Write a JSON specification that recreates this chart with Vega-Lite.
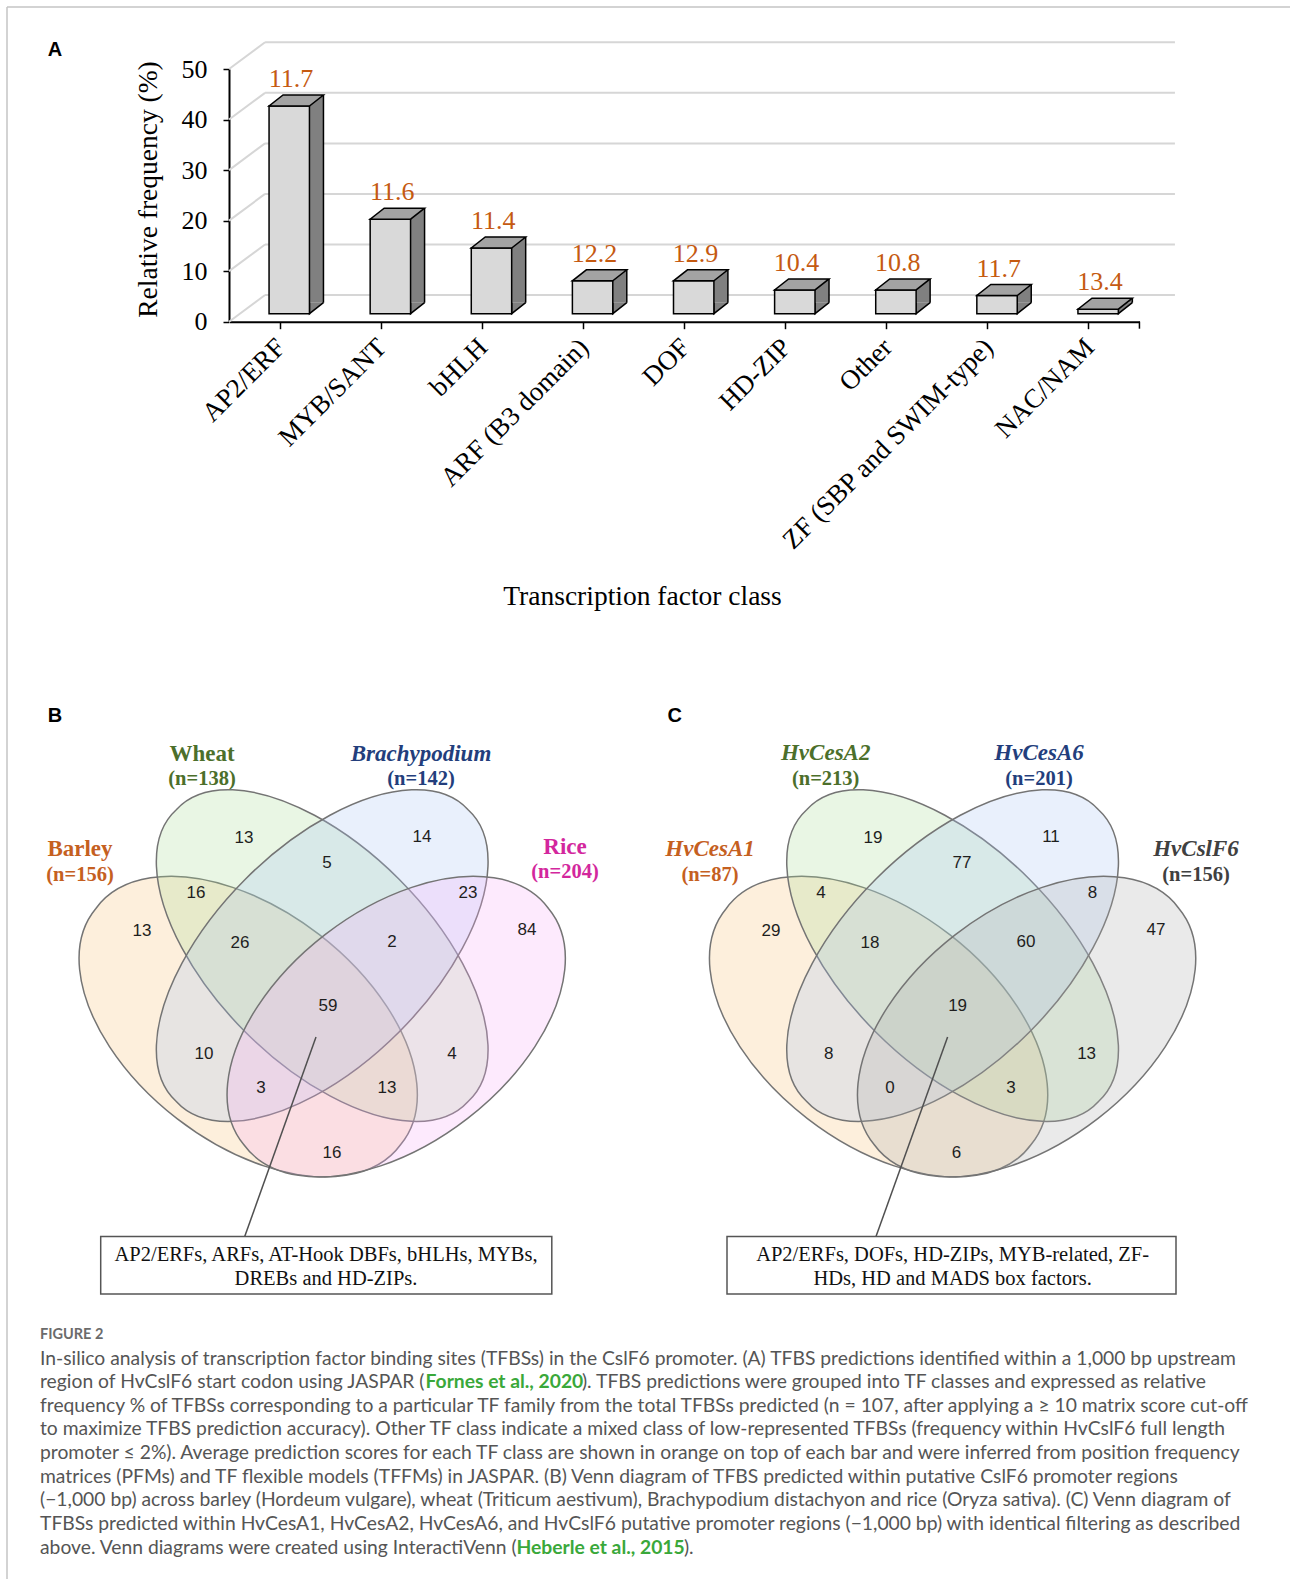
{
  "$schema": "https://vega.github.io/schema/vega-lite/v6.json",
  "width": 1290,
  "height": 1579,
  "autosize": {"type": "none"},
  "padding": 0,
  "background": "white",
  "config": {"view": {"stroke": null}},
  "resolve": {
    "scale": {"x": "independent", "y": "independent", "color": "independent", "fill": "independent", "shape": "independent"},
    "axis": {"x": "independent", "y": "independent"}
  },
  "datasets": {
    "bars": [
      {"cls": "AP2/ERF", "freq": 41.1, "score": 11.7},
      {"cls": "MYB/SANT", "freq": 18.7, "score": 11.6},
      {"cls": "bHLH", "freq": 13.0, "score": 11.4},
      {"cls": "ARF (B3 domain)", "freq": 6.5, "score": 12.2},
      {"cls": "DOF", "freq": 6.5, "score": 12.9},
      {"cls": "HD-ZIP", "freq": 4.7, "score": 10.4},
      {"cls": "Other", "freq": 4.7, "score": 10.8},
      {"cls": "ZF (SBP and SWIM-type)", "freq": 3.6, "score": 11.7},
      {"cls": "NAC/NAM", "freq": 0.9, "score": 13.4}
    ],
    "grid": [{"freq": 0}, {"freq": 10}, {"freq": 20}, {"freq": 30}, {"freq": 40}, {"freq": 50}],
    "endTick": [{"freq": 0}],
    "ellB": [
      {"set": "Barley", "x": -75, "y": 71},
      {"set": "Wheat", "x": -1, "y": 0},
      {"set": "Brachypodium", "x": -1, "y": 0},
      {"set": "Rice", "x": 73, "y": 71}
    ],
    "ellC": [
      {"set": "HvCesA1", "x": -74, "y": 71},
      {"set": "HvCesA2", "x": 0, "y": 0},
      {"set": "HvCesA6", "x": 0, "y": 0},
      {"set": "HvCslF6", "x": 74, "y": 71}
    ],
    "numB": [
      {"n": "13", "x": -79.2, "y": -117.6},
      {"n": "14", "x": 98.8, "y": -118.6},
      {"n": "5", "x": 3.8, "y": -92.6},
      {"n": "16", "x": -127.2, "y": -62.6},
      {"n": "23", "x": 144.8, "y": -62.6},
      {"n": "13", "x": -181.2, "y": -24.6},
      {"n": "84", "x": 203.8, "y": -25.6},
      {"n": "26", "x": -83.2, "y": -12.6},
      {"n": "2", "x": 68.8, "y": -13.6},
      {"n": "59", "x": 4.8, "y": 50.4},
      {"n": "10", "x": -119.2, "y": 98.4},
      {"n": "4", "x": 128.8, "y": 98.4},
      {"n": "3", "x": -62.2, "y": 132.4},
      {"n": "13", "x": 63.8, "y": 132.4},
      {"n": "16", "x": 8.8, "y": 197.4}
    ],
    "numC": [
      {"n": "19", "x": -79.6, "y": -117.6},
      {"n": "11", "x": 98.4, "y": -118.6},
      {"n": "77", "x": 9.4, "y": -92.6},
      {"n": "4", "x": -131.6, "y": -62.6},
      {"n": "8", "x": 140, "y": -62.6},
      {"n": "29", "x": -181.6, "y": -24.6},
      {"n": "47", "x": 203.4, "y": -25.6},
      {"n": "18", "x": -82.6, "y": -12.6},
      {"n": "60", "x": 73.4, "y": -13.6},
      {"n": "19", "x": 5, "y": 50.4},
      {"n": "8", "x": -123.8, "y": 98.4},
      {"n": "13", "x": 134, "y": 98.4},
      {"n": "0", "x": -62.6, "y": 132.4},
      {"n": "3", "x": 58.4, "y": 132.4},
      {"n": "6", "x": 4, "y": 197.4}
    ],
    "setB": [
      {"set": "Wheat", "label": "Wheat", "kind": "name", "style": "normal", "x": -121.2, "y": -201.6},
      {"set": "Wheat", "label": "(n=138)", "kind": "n", "style": "normal", "x": -121.2, "y": -176.6},
      {"set": "Brachypodium", "label": "Brachypodium", "kind": "name", "style": "italic", "x": 97.8, "y": -201.6},
      {"set": "Brachypodium", "label": "(n=142)", "kind": "n", "style": "normal", "x": 97.8, "y": -176.6},
      {"set": "Barley", "label": "Barley", "kind": "name", "style": "normal", "x": -243.2, "y": -106.6},
      {"set": "Barley", "label": "(n=156)", "kind": "n", "style": "normal", "x": -243.2, "y": -80.6},
      {"set": "Rice", "label": "Rice", "kind": "name", "style": "normal", "x": 241.8, "y": -108.6},
      {"set": "Rice", "label": "(n=204)", "kind": "n", "style": "normal", "x": 241.8, "y": -83.6}
    ],
    "setC": [
      {"set": "HvCesA2", "label": "HvCesA2", "kind": "name", "style": "italic", "x": -126.9, "y": -202.6},
      {"set": "HvCesA2", "label": "(n=213)", "kind": "n", "style": "normal", "x": -126.9, "y": -176.6},
      {"set": "HvCesA6", "label": "HvCesA6", "kind": "name", "style": "italic", "x": 86.4, "y": -202.6},
      {"set": "HvCesA6", "label": "(n=201)", "kind": "n", "style": "normal", "x": 86.4, "y": -176.6},
      {"set": "HvCesA1", "label": "HvCesA1", "kind": "name", "style": "italic", "x": -242.6, "y": -106.6},
      {"set": "HvCesA1", "label": "(n=87)", "kind": "n", "style": "normal", "x": -242.6, "y": -80.6},
      {"set": "HvCslF6", "label": "HvCslF6", "kind": "name", "style": "italic", "x": 243.4, "y": -106.6},
      {"set": "HvCslF6", "label": "(n=156)", "kind": "n", "style": "normal", "x": 243.4, "y": -80.6}
    ],
    "boxB": [{"x": -222.5, "x2": 228.6, "y": 281, "y2": 338.4}],
    "boxC": [{"x": -225.6, "x2": 223.4, "y": 281, "y2": 338.4}],
    "leadB": [{"x": -78.5, "y": 281, "x2": -7.2, "y2": 81.4}],
    "leadC": [{"x": -76.6, "y": 281, "x2": -5, "y2": 81.4}],
    "boxTextB": [
      {"t": "AP2/ERFs, ARFs, AT-Hook DBFs, bHLHs, MYBs,", "x": 2.8, "y": 299.1},
      {"t": "DREBs and HD-ZIPs.", "x": 2.8, "y": 323.4}
    ],
    "boxTextC": [
      {"t": "AP2/ERFs, DOFs, HD-ZIPs, MYB-related, ZF-", "x": 0, "y": 299.1},
      {"t": "HDs, HD and MADS box factors.", "x": 0, "y": 323.4}
    ],
    "lettersB": [
      {"t": "A", "x": -268.2, "y": -905.6},
      {"t": "B", "x": -268.2, "y": -239.6}
    ],
    "lettersC": [
      {"t": "C", "x": -277.9, "y": -239.6}
    ],
    "frame": [
      {"x": -316.2, "y": -948.6, "x2": 966.8, "y2": -948.6},
      {"x": -316.2, "y": -948.6, "x2": -316.2, "y2": 623.4}
    ],
    "caption": [
      {"line": 0, "col": 0, "kind": "head", "text": "FIGURE 2"},
      {"line": 1, "col": 0, "kind": "body", "text": "In-silico analysis of transcription factor binding sites (TFBSs) in the CslF6 promoter. (A) TFBS predictions identified within a 1,000 bp upstream"},
      {"line": 2, "col": 0, "kind": "body", "text": "region of HvCslF6 start codon using JASPAR ("},
      {"line": 2, "col": 0.3186, "kind": "link", "text": "Fornes et al., 2020"},
      {"line": 2, "col": 0.4479, "kind": "body", "text": "). TFBS predictions were grouped into TF classes and expressed as relative"},
      {"line": 3, "col": 0, "kind": "body", "text": "frequency % of TFBSs corresponding to a particular TF family from the total TFBSs predicted (n = 107, after applying a ≥ 10 matrix score cut-off"},
      {"line": 4, "col": 0, "kind": "body", "text": "to maximize TFBS prediction accuracy). Other TF class indicate a mixed class of low-represented TFBSs (frequency within HvCslF6 full length"},
      {"line": 5, "col": 0, "kind": "body", "text": "promoter ≤ 2%). Average prediction scores for each TF class are shown in orange on top of each bar and were inferred from position frequency"},
      {"line": 6, "col": 0, "kind": "body", "text": "matrices (PFMs) and TF flexible models (TFFMs) in JASPAR. (B) Venn diagram of TFBS predicted within putative CslF6 promoter regions"},
      {"line": 7, "col": 0, "kind": "body", "text": "(−1,000 bp) across barley (Hordeum vulgare), wheat (Triticum aestivum), Brachypodium distachyon and rice (Oryza sativa). (C) Venn diagram of"},
      {"line": 8, "col": 0, "kind": "body", "text": "TFBSs predicted within HvCesA1, HvCesA2, HvCesA6, and HvCslF6 putative promoter regions (−1,000 bp) with identical filtering as described"},
      {"line": 9, "col": 0, "kind": "body", "text": "above. Venn diagrams were created using InteractiVenn ("},
      {"line": 9, "col": 0.3938, "kind": "link", "text": "Heberle et al., 2015"},
      {"line": 9, "col": 0.5322, "kind": "body", "text": ")."}
    ]
  },
  "layer": [
    {
      "data": {"name": "bars"},
      "encoding": {
        "x": {
          "field": "cls", "type": "nominal", "sort": null,
          "scale": {"type": "band", "domain": ["AP2/ERF", "MYB/SANT", "bHLH", "ARF (B3 domain)", "DOF", "HD-ZIP", "Other", "ZF (SBP and SWIM-type)", "NAC/NAM"], "range": [229.5, 1139.5], "paddingInner": 0, "paddingOuter": 0},
          "axis": {
            "orient": "bottom", "offset": -1257.3, "labelAngle": -45, "labelFont": "Liberation Serif", "labelFontSize": 27, "labelColor": "black", "labelPadding": 5, "labelOffset": -8, "labelLimit": 0,
            "tickColor": "black", "tickSize": 7, "tickWidth": 1.5, "domainColor": "black", "domainWidth": 2, "grid": false,
            "title": "Transcription factor class", "titleFont": "Liberation Serif", "titleFontSize": 27.5, "titleFontWeight": "normal", "titleColor": "black",
            "titleX": 642, "titleY": 275, "titleAlign": "center", "titleBaseline": "middle"
          }
        },
        "y": {
          "field": "freq", "type": "quantitative",
          "scale": {"domain": [0, 50], "range": [321.7, 69], "nice": false, "zero": false},
          "axis": {
            "orient": "left", "offset": -229, "values": [0, 10, 20, 30, 40, 50], "labelFont": "Liberation Serif", "labelFontSize": 26, "labelColor": "black", "labelPadding": 16,
            "tickColor": "black", "tickSize": 6, "tickWidth": 1.5, "domainColor": "black", "domainWidth": 2, "grid": false,
            "title": "Relative frequency (%)", "titleFont": "Liberation Serif", "titleFontSize": 27.5, "titleFontWeight": "normal", "titleColor": "black",
            "titleX": -81, "titleY": 189, "titleAlign": "center", "titleBaseline": "middle", "titleAngle": -90
          }
        }
      },
      "layer": [
        {
          "data": {"name": "grid"},
          "mark": {"type": "rule", "stroke": "#d6d6d6", "strokeWidth": 2, "xOffset": -15, "x2Offset": 86, "yOffset": -26.7},
          "encoding": {"x": {"datum": "AP2/ERF"}, "x2": {"datum": "NAC/NAM"}}
        },
        {
          "data": {"name": "grid"},
          "mark": {"type": "rule", "stroke": "#d6d6d6", "strokeWidth": 2, "xOffset": -51, "x2Offset": -15, "y2Offset": -26.7},
          "encoding": {"x": {"datum": "AP2/ERF"}, "x2": {"datum": "AP2/ERF"}, "y2": {"field": "freq"}}
        },
        {
          "data": {"name": "endTick"},
          "mark": {"type": "rule", "stroke": "black", "strokeWidth": 1.5, "xOffset": 50.5, "y2Offset": 7},
          "encoding": {"x": {"datum": "NAC/NAM"}, "y2": {"field": "freq"}}
        },
        {
          "mark": {"type": "bar", "width": 40.4, "xOffset": 23.2, "yOffset": -19, "y2Offset": -19, "fill": "#808080"}
        },
        {
          "mark": {"type": "rule", "stroke": "black", "strokeWidth": 1.5, "xOffset": 43.4, "yOffset": -19, "y2Offset": -19},
          "encoding": {"y2": {"datum": 0}}
        },
        {
          "mark": {"type": "point", "shape": "M 43.4 -19 L 29.4 -8 L 29.4 -19", "size": 4, "filled": true, "fill": "#808080", "stroke": "black", "strokeWidth": 1.5, "opacity": 1},
          "encoding": {"y": {"datum": 0}}
        },
        {
          "mark": {"type": "bar", "width": 40.4, "xOffset": 9.2, "yOffset": -8, "y2Offset": -8, "fill": "#d9d9d9", "stroke": "black", "strokeWidth": 1.5}
        },
        {
          "mark": {"type": "point", "shape": "M -11 -8 L 29.4 -8 L 43.4 -19 L 3 -19 Z", "size": 4, "filled": true, "fill": "#a3a3a3", "stroke": "black", "strokeWidth": 1.5, "opacity": 1}
        },
        {
          "mark": {"type": "text", "font": "Liberation Serif", "fontSize": 26, "fill": "#c55a11", "dx": 11, "dy": -35, "align": "center", "baseline": "middle"},
          "encoding": {"text": {"field": "score", "type": "quantitative", "format": ".1f"}}
        }
      ]
    },
    {
      "encoding": {
        "x": {"field": "x", "type": "quantitative", "scale": {"domain": [-300, 300], "range": [23.2, 623.2], "nice": false, "zero": false}, "axis": null},
        "y": {"field": "y", "type": "quantitative", "scale": {"domain": [-300, 300], "range": [655.6, 1255.6], "nice": false, "zero": false}, "axis": null}
      },
      "layer": [
        {
          "data": {"name": "frame"},
          "mark": {"type": "rule", "stroke": "#c4c4c4", "strokeWidth": 1.5},
          "encoding": {"x2": {"field": "x2"}, "y2": {"field": "y2"}}
        },
        {
          "data": {"name": "ellB"},
          "mark": {"type": "point", "size": 4, "filled": true, "opacity": 1, "fillOpacity": 0.25, "stroke": "#747474", "strokeWidth": 1.5},
          "encoding": {
            "color": {"field": "set", "type": "nominal", "scale": {"domain": ["Barley", "Wheat", "Brachypodium", "Rice"], "range": ["#f7bf73", "#a7db93", "#a7c3f3", "#f7abf7"]}, "legend": null},
            "shape": {"field": "set", "type": "nominal", "scale": {"domain": ["Barley", "Wheat", "Brachypodium", "Rice"], "range": [
              "M -152.5 -117.9 A 192.8 114 37.7 1 0 152.5 117.9 A 192.8 114 37.7 1 0 -152.5 -117.9 Z",
              "M -145.9 -145.9 A 206.4 105.7 45 1 0 145.9 145.9 A 206.4 105.7 45 1 0 -145.9 -145.9 Z",
              "M -145.9 145.9 A 206.4 105.7 -45 1 0 145.9 -145.9 A 206.4 105.7 -45 1 0 -145.9 145.9 Z",
              "M -152.5 117.9 A 192.8 114 -37.7 1 0 152.5 -117.9 A 192.8 114 -37.7 1 0 -152.5 117.9 Z"
            ]}, "legend": null}
          }
        },
        {
          "data": {"name": "numB"},
          "mark": {"type": "text", "font": "Liberation Sans", "fontSize": 17, "fill": "#1e1e1e", "align": "center", "baseline": "middle"},
          "encoding": {"text": {"field": "n"}}
        },
        {
          "data": {"name": "setB"},
          "transform": [{"filter": "datum.kind === 'name' && datum.style === 'normal'"}],
          "mark": {"type": "text", "font": "Liberation Serif", "fontSize": 23, "fontWeight": "bold", "align": "center", "baseline": "middle"},
          "encoding": {
            "text": {"field": "label"},
            "fill": {"field": "set", "type": "nominal", "scale": {"domain": ["Barley", "Wheat", "Brachypodium", "Rice"], "range": ["#c5601f", "#4c6f2b", "#233e7c", "#d3279d"]}, "legend": null}
          }
        },
        {
          "data": {"name": "setB"},
          "transform": [{"filter": "datum.kind === 'name' && datum.style === 'italic'"}],
          "mark": {"type": "text", "font": "Liberation Serif", "fontSize": 23, "fontWeight": "bold", "fontStyle": "italic", "align": "center", "baseline": "middle"},
          "encoding": {
            "text": {"field": "label"},
            "fill": {"field": "set", "type": "nominal", "legend": null}
          }
        },
        {
          "data": {"name": "setB"},
          "transform": [{"filter": "datum.kind === 'n'"}],
          "mark": {"type": "text", "font": "Liberation Serif", "fontSize": 20.5, "fontWeight": "bold", "align": "center", "baseline": "middle"},
          "encoding": {
            "text": {"field": "label"},
            "fill": {"field": "set", "type": "nominal", "legend": null}
          }
        },
        {
          "data": {"name": "leadB"},
          "mark": {"type": "rule", "stroke": "#505050", "strokeWidth": 1.5},
          "encoding": {"x2": {"field": "x2"}, "y2": {"field": "y2"}}
        },
        {
          "data": {"name": "boxB"},
          "mark": {"type": "rect", "fill": "white", "stroke": "#555555", "strokeWidth": 1.5},
          "encoding": {"x2": {"field": "x2"}, "y2": {"field": "y2"}}
        },
        {
          "data": {"name": "boxTextB"},
          "mark": {"type": "text", "font": "Liberation Serif", "fontSize": 20.5, "fill": "#111111", "align": "center", "baseline": "middle"},
          "encoding": {"text": {"field": "t"}}
        },
        {
          "data": {"name": "lettersB"},
          "mark": {"type": "text", "font": "Liberation Sans", "fontSize": 20, "fontWeight": "bold", "fill": "black", "align": "center", "baseline": "middle"},
          "encoding": {"text": {"field": "t"}}
        }
      ]
    },
    {
      "encoding": {
        "x": {"field": "x", "type": "quantitative", "scale": {"domain": [-300, 300], "range": [652.6, 1252.6], "nice": false, "zero": false}, "axis": null},
        "y": {"field": "y", "type": "quantitative", "scale": {"domain": [-300, 300], "range": [655.6, 1255.6], "nice": false, "zero": false}, "axis": null}
      },
      "layer": [
        {
          "data": {"name": "ellC"},
          "mark": {"type": "point", "size": 4, "filled": true, "opacity": 1, "fillOpacity": 0.25, "stroke": "#747474", "strokeWidth": 1.5},
          "encoding": {
            "color": {"field": "set", "type": "nominal", "scale": {"domain": ["HvCesA1", "HvCesA2", "HvCesA6", "HvCslF6"], "range": ["#f7bf73", "#a7db93", "#a7c3f3", "#ababab"]}, "legend": null},
            "shape": {"field": "set", "type": "nominal", "scale": {"domain": ["HvCesA1", "HvCesA2", "HvCesA6", "HvCslF6"], "range": [
              "M -152.5 -117.9 A 192.8 114 37.7 1 0 152.5 117.9 A 192.8 114 37.7 1 0 -152.5 -117.9 Z",
              "M -145.9 -145.9 A 206.4 105.7 45 1 0 145.9 145.9 A 206.4 105.7 45 1 0 -145.9 -145.9 Z",
              "M -145.9 145.9 A 206.4 105.7 -45 1 0 145.9 -145.9 A 206.4 105.7 -45 1 0 -145.9 145.9 Z",
              "M -152.5 117.9 A 192.8 114 -37.7 1 0 152.5 -117.9 A 192.8 114 -37.7 1 0 -152.5 117.9 Z"
            ]}, "legend": null}
          }
        },
        {
          "data": {"name": "numC"},
          "mark": {"type": "text", "font": "Liberation Sans", "fontSize": 17, "fill": "#1e1e1e", "align": "center", "baseline": "middle"},
          "encoding": {"text": {"field": "n"}}
        },
        {
          "data": {"name": "setC"},
          "transform": [{"filter": "datum.kind === 'name'"}],
          "mark": {"type": "text", "font": "Liberation Serif", "fontSize": 23, "fontWeight": "bold", "fontStyle": "italic", "align": "center", "baseline": "middle"},
          "encoding": {
            "text": {"field": "label"},
            "fill": {"field": "set", "type": "nominal", "scale": {"domain": ["HvCesA1", "HvCesA2", "HvCesA6", "HvCslF6"], "range": ["#c5601f", "#4c6f2b", "#233e7c", "#404040"]}, "legend": null}
          }
        },
        {
          "data": {"name": "setC"},
          "transform": [{"filter": "datum.kind === 'n'"}],
          "mark": {"type": "text", "font": "Liberation Serif", "fontSize": 20.5, "fontWeight": "bold", "align": "center", "baseline": "middle"},
          "encoding": {
            "text": {"field": "label"},
            "fill": {"field": "set", "type": "nominal", "legend": null}
          }
        },
        {
          "data": {"name": "leadC"},
          "mark": {"type": "rule", "stroke": "#505050", "strokeWidth": 1.5},
          "encoding": {"x2": {"field": "x2"}, "y2": {"field": "y2"}}
        },
        {
          "data": {"name": "boxC"},
          "mark": {"type": "rect", "fill": "white", "stroke": "#555555", "strokeWidth": 1.5},
          "encoding": {"x2": {"field": "x2"}, "y2": {"field": "y2"}}
        },
        {
          "data": {"name": "boxTextC"},
          "mark": {"type": "text", "font": "Liberation Serif", "fontSize": 20.5, "fill": "#111111", "align": "center", "baseline": "middle"},
          "encoding": {"text": {"field": "t"}}
        },
        {
          "data": {"name": "lettersC"},
          "mark": {"type": "text", "font": "Liberation Sans", "fontSize": 20, "fontWeight": "bold", "fill": "black", "align": "center", "baseline": "middle"},
          "encoding": {"text": {"field": "t"}}
        }
      ]
    },
    {
      "data": {"name": "caption"},
      "encoding": {
        "x": {"field": "col", "type": "quantitative", "scale": {"domain": [0, 1], "range": [40, 1250], "nice": false, "zero": false}, "axis": null},
        "y": {"field": "line", "type": "quantitative", "scale": {"domain": [1, 9], "range": [1358.5, 1547.7], "nice": false, "zero": false}, "axis": null},
        "text": {"field": "text"}
      },
      "layer": [
        {
          "transform": [{"filter": "datum.kind === 'head'"}],
          "mark": {"type": "text", "font": "Lato", "fontSize": 14.5, "fontWeight": "bold", "fill": "#6b6b6b", "align": "left", "baseline": "middle"}
        },
        {
          "transform": [{"filter": "datum.kind === 'body'"}],
          "mark": {"type": "text", "font": "Lato", "fontSize": 19.3, "fill": "#555555", "align": "left", "baseline": "middle"}
        },
        {
          "transform": [{"filter": "datum.kind === 'link'"}],
          "mark": {"type": "text", "font": "Lato", "fontSize": 19.3, "fontWeight": "bold", "fill": "#3aa83a", "align": "left", "baseline": "middle"}
        }
      ]
    }
  ]
}
